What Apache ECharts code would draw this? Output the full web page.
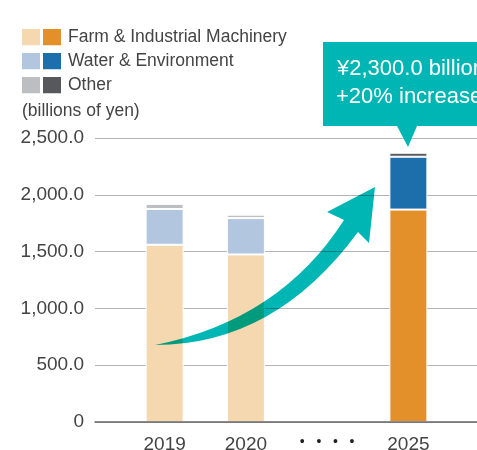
<!DOCTYPE html>
<html>
<head>
<meta charset="utf-8">
<script src="https://cdn.jsdelivr.net/npm/echarts@6/dist/echarts.min.js"></script>
<style>
  html, body { margin: 0; padding: 0; background: #fff; }
  #chart { width: 477px; height: 450px; }
</style>
</head>
<body>
<div id="chart"></div>
<script>
let years = ['2019', '2020', 'gap', '2025'];
let farm = [1560, 1475, '-', 1870];
let water = [315, 320, '-', 465];
let other = [45, 30, '-', 35];
let seriesNames = ['Farm & Industrial Machinery', 'Water & Environment', 'Other'];
let yTicks = [0, 500, 1000, 1500, 2000, 2500];
let calloutLines = ['¥2,300.0 billion', '+20% increase'];

// light colour for actuals, dark for the 2025 target
let palette = [
  ['#f5d8b0', '#e3902a'],
  ['#b3c6e0', '#1c6fab'],
  ['#bdbec1', '#57585b']
];
let teal = '#00b6b4';
let font = 'Liberation Sans';
let textColor = '#444';

// the big curved arrow, as an svg path
let arrowPath = 'M155,345 Q280,320 344,220 L327,212 L375,187 L369,243 L358,232 Q275,345 155,345 Z';
echarts.graphic.registerShape('growthArrow', echarts.graphic.extendPath(arrowPath, {}));

function twoSquares(c) {
  let svg = "<svg xmlns='http://www.w3.org/2000/svg' width='39' height='17'>" +
    "<rect width='18' height='17' fill='" + c[0] + "'/>" +
    "<rect x='21' width='18' height='17' fill='" + c[1] + "'/></svg>";
  return 'image://data:image/svg+xml;charset=utf-8,' + encodeURIComponent(svg);
}

function makeSeries(i, values) {
  return {
    name: seriesNames[i],
    type: 'bar',
    stack: 'total',
    xAxisIndex: 0,
    yAxisIndex: 0,
    barWidth: 38,
    data: values.map(function (v, k) {
      return {
        value: v,
        itemStyle: { color: years[k] === '2025' ? palette[i][1] : palette[i][0] }
      };
    }),
    itemStyle: { borderColor: '#fff', borderWidth: 1 }
  };
}

let myChart = echarts.init(document.getElementById('chart'));
let option = {
  animation: false,
  textStyle: { fontFamily: font },
  title: {
    text: '(billions of yen)',
    left: 17,
    top: 97,
    textStyle: { fontFamily: font, fontSize: 17.5, fontWeight: 'normal', color: textColor }
  },
  legend: {
    orient: 'vertical',
    left: 22,
    top: 28,
    padding: 0,
    itemWidth: 39,
    itemHeight: 17,
    itemGap: 6,
    selectedMode: false,
    data: seriesNames.map(function (n, i) {
      return { name: n, icon: twoSquares(palette[i]) };
    }),
    textStyle: { fontFamily: font, fontSize: 17.5, color: textColor, padding: [0, 0, 0, 2] }
  },
  grid: [
    { left: 124, right: 28, top: 138, bottom: 28, outerBoundsMode: 'none' },
    { left: 95, right: 0, top: 138, bottom: 28, outerBoundsMode: 'none' }
  ],
  xAxis: [
    {
      type: 'category',
      gridIndex: 0,
      data: years,
      axisLine: { show: false },
      axisTick: { show: false },
      axisLabel: {
        interval: 0,
        margin: 13,
        fontFamily: font,
        fontSize: 19,
        color: textColor,
        formatter: function (v) { return v === 'gap' ? '{d|•   •   •   •}' : v; },
        rich: { d: { fontSize: 14, color: '#222', fontFamily: font } }
      }
    },
    {
      type: 'value',
      gridIndex: 1,
      min: 0,
      max: 1,
      z: 5,
      axisLine: { show: true, onZero: false, lineStyle: { color: '#666', width: 1.5 } },
      axisTick: { show: false },
      axisLabel: { show: false },
      splitLine: { show: false }
    }
  ],
  yAxis: [
    {
      type: 'value',
      gridIndex: 0,
      min: yTicks[0],
      max: yTicks[yTicks.length - 1],
      interval: 500,
      axisLine: { show: false },
      axisTick: { show: false },
      axisLabel: { show: false },
      splitLine: { show: false }
    },
    {
      type: 'value',
      gridIndex: 1,
      min: yTicks[0],
      max: yTicks[yTicks.length - 1],
      interval: 500,
      axisLine: { show: false },
      axisTick: { show: false },
      axisLabel: {
        margin: 11,
        fontFamily: font,
        fontSize: 19,
        color: textColor,
        formatter: function (v) {
          return v === 0 ? '0' : v.toLocaleString('en-US', { minimumFractionDigits: 1, maximumFractionDigits: 1 });
        }
      },
      splitLine: { lineStyle: { color: '#b4b4b4', width: 1 } }
    }
  ],
  series: [
    makeSeries(0, farm),
    makeSeries(1, water),
    makeSeries(2, other)
  ],
  graphic: [
    {
      type: 'growthArrow',
      z: 50,
      style: { fill: teal, blend: 'multiply' }
    },
    {
      type: 'polygon',
      z: 50,
      shape: {
        points: [[323, 42], [480, 42], [480, 126], [417, 126], [408, 147], [397, 126], [323, 126]]
      },
      style: { fill: teal }
    },
    {
      type: 'text',
      z: 51,
      style: {
        x: 337, y: 69, text: calloutLines[0], fill: '#fff',
        font: '22px "Liberation Sans"', verticalAlign: 'middle'
      }
    },
    {
      type: 'text',
      z: 51,
      style: {
        x: 336, y: 97, text: calloutLines[1], fill: '#fff',
        font: '22px "Liberation Sans"', verticalAlign: 'middle'
      }
    }
  ]
};
myChart.setOption(option);
</script>
</body>
</html>
